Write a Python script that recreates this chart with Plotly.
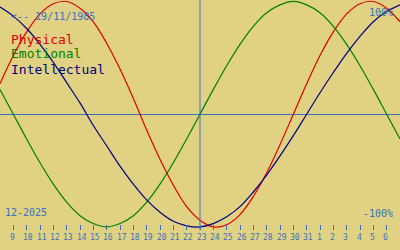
import plotly.graph_objects as go

# Day index 0 = 9 Dec 2025 ... index 28 = 6 Jan 2026 (index -1 and 29 are the edge days)
day_index = list(range(-1, 30))
tick_labels = ["9", "10", "11", "12", "13", "14", "15", "16", "17", "18", "19", "20", "21", "22",
               "23", "24", "25", "26", "27", "28", "29", "30", "31", "1", "2", "3", "4", "5", "6"]
tick_index = list(range(0, 29))
today_index = 14

physical = [0.27, 0.52, 0.73, 0.89, 0.98, 1.00, 0.94, 0.82, 0.63, 0.40, 0.14, -0.14, -0.40, -0.63,
            -0.82, -0.94, -1.00, -0.98, -0.89, -0.73, -0.52, -0.27, 0.00, 0.27, 0.52, 0.73, 0.89,
            0.98, 1.00, 0.94, 0.82]
emotional = [0.22, 0.00, -0.22, -0.43, -0.62, -0.78, -0.90, -0.97, -1.00, -0.97, -0.90, -0.78,
             -0.62, -0.43, -0.22, 0.00, 0.22, 0.43, 0.62, 0.78, 0.90, 0.97, 1.00, 0.97, 0.90, 0.78,
             0.62, 0.43, 0.22, 0.00, -0.22]
intellectual = [0.95, 0.87, 0.76, 0.62, 0.46, 0.28, 0.10, -0.10, -0.28, -0.46, -0.62, -0.76, -0.87,
                -0.95, -0.99, -1.00, -0.97, -0.91, -0.82, -0.69, -0.54, -0.37, -0.19, 0.00, 0.19,
                0.37, 0.54, 0.69, 0.82, 0.91, 0.97]

series_names = ["Physical", "Emotional", "Intellectual"]
series_colors = ["#e00000", "#008000", "#000080"]

BG = "#e0d282"
BLUE = "#3a70c0"
FONT = "DejaVu Sans Mono"

W, H = 400, 250
PLOT_H = 230


def py(ypx):
    return (PLOT_H - ypx) / PLOT_H


def px(xpx):
    return xpx / W


fig = go.Figure()
for name, vals, col in zip(series_names, [physical, emotional, intellectual], series_colors):
    fig.add_trace(go.Scatter(x=day_index, y=vals, mode="lines", name=name,
                             line=dict(color=col, width=1.2, shape="spline"),
                             hoverinfo="skip"))

# today line
fig.add_shape(type="line", xref="x", yref="paper", x0=today_index, x1=today_index, y0=0, y1=1,
              line=dict(color=BLUE, width=1))

annotations = []
# tick labels (left-aligned a few pixels before each tick)
for i, lab in zip(tick_index, tick_labels):
    annotations.append(dict(x=i, xref="x", y=py(237.5), yref="paper", text=lab, showarrow=False,
                            xanchor="left", yanchor="middle", xshift=-5.5,
                            font=dict(family=FONT, size=8, color=BLUE)))

annotations += [
    dict(x=px(9), y=py(16.5), text="&lt;-- 19/11/1985", xanchor="left",
         font=dict(family=FONT, size=10, color=BLUE)),
    dict(x=px(395), y=py(12), text="100%", xanchor="right",
         font=dict(family=FONT, size=10, color=BLUE)),
    dict(x=px(395), y=py(213), text="-100%", xanchor="right",
         font=dict(family=FONT, size=10, color=BLUE)),
    dict(x=px(3), y=py(212), text="12-2025", xanchor="left",
         font=dict(family=FONT, size=10, color=BLUE)),
]
for k, (name, col) in enumerate(zip(series_names, series_colors)):
    annotations.append(dict(x=px(9), y=py(39 + 15 * k), text=name, xanchor="left",
                            font=dict(family=FONT, size=13, color=col)))

for a in annotations:
    a.setdefault("xref", "paper")
    a.setdefault("yref", "paper")
    a.setdefault("showarrow", False)
    a.setdefault("yanchor", "middle")

fig.update_layout(
    width=W, height=H,
    margin=dict(l=0, r=0, t=0, b=H - PLOT_H, pad=0),
    paper_bgcolor=BG, plot_bgcolor=BG,
    showlegend=False,
    annotations=annotations,
    xaxis=dict(range=[-1, 29], showgrid=False, zeroline=False, showline=False,
               tickmode="array", tickvals=tick_index, ticktext=tick_labels,
               ticks="inside", ticklen=5, tickwidth=1, tickcolor=BLUE,
               showticklabels=False, fixedrange=True),
    yaxis=dict(range=[-1.027, 1.013], showgrid=False, zeroline=True, zerolinecolor=BLUE,
               zerolinewidth=1, showline=False, showticklabels=False, ticks="",
               fixedrange=True),
)

fig.write_html("out.html", config={"displayModeBar": False})
